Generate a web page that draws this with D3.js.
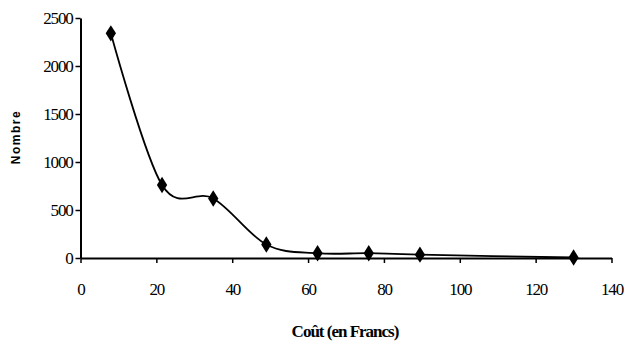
<!DOCTYPE html>
<html>
<head>
<meta charset="utf-8">
<script src="https://cdn.jsdelivr.net/npm/d3@7"></script>
<style>
  body { margin: 0; background: #fff; }
  .tick text { font-family: "Liberation Serif", "Times New Roman", serif; font-size: 17px; letter-spacing: -1.2px; fill: #000; }
  .axis path, .axis line { stroke: #000; }
</style>
</head>
<body>
<div id="chart"></div>
<script>
// cost (francs) and count
var couts = [8, 21.5, 35, 49, 62.5, 76, 89.5, 130];
var nombres = [2340, 760, 620, 140, 50, 50, 35, 5];
var xTicks = [0, 20, 40, 60, 80, 100, 120, 140];
var yTicks = [0, 500, 1000, 1500, 2000, 2500];

var width = 624, height = 343;
var mLeft = 80.5, mRight = 611.5, mTop = 18, mBottom = 258;

var data = couts.map(function(c, i) { return {x: c, y: nombres[i]}; });

var xScale = d3.scaleLinear().domain([0, 140]).range([mLeft, mRight]);
var yScale = d3.scaleLinear().domain([0, 2500]).range([mBottom, mTop]);

var svg = d3.select("#chart").append("svg")
    .attr("width", width)
    .attr("height", height);

/* axes */
var xAxis = d3.axisBottom(xScale).tickValues(xTicks).tickSize(5).tickSizeOuter(0).tickPadding(20);
var yAxis = d3.axisLeft(yScale).tickValues(yTicks).tickFormat(d3.format("d")).tickSize(5).tickSizeOuter(0).tickPadding(3);

svg.append("g")
    .attr("class", "x axis")
    .attr("transform", `translate(0, ${mBottom})`)
    .call(xAxis)
    .call(g => g.select(".domain").attr("stroke-width", 2.2))
    .call(g => g.selectAll(".tick line").attr("stroke-width", 1.5));

svg.append("g")
    .attr("class", "y axis")
    .attr("transform", `translate(${mLeft}, 0)`)
    .call(yAxis)
    .call(g => g.select(".domain").attr("stroke-width", 2))
    .call(g => g.selectAll(".tick line").attr("stroke-width", 1.5));

/* smoothed line (uniform catmull-rom, like excel smoothing) */
var line = d3.line()
    .x(d => xScale(d.x))
    .y(d => yScale(d.y))
    .curve(d3.curveCatmullRom.alpha(0));

svg.append("path")
    .datum(data)
    .attr("d", line)
    .attr("fill", "none")
    .attr("stroke", "#000")
    .attr("stroke-width", 1.8);

/* diamond markers */
var diamond = d3.symbol().type(d3.symbolDiamond).size(64);
svg.selectAll(".pt")
    .data(data).enter()
    .append("path")
    .attr("class", "pt")
    .attr("d", diamond)
    .attr("transform", d => `translate(${xScale(d.x)}, ${yScale(d.y)}) scale(1.2, 1.1)`)
    .attr("fill", "#000");

/* labels */
svg.append("text")
    .attr("x", 345)
    .attr("y", 337)
    .attr("text-anchor", "middle")
    .style("font-family", "Liberation Serif, serif")
    .style("font-size", "17px")
    .style("letter-spacing", "-1px")
    .style("font-weight", "bold")
    .text("Coût (en Francs)");

svg.append("text")
    .attr("transform", "translate(20, 137) rotate(-90)")
    .attr("text-anchor", "middle")
    .style("font-family", "Liberation Sans, sans-serif")
    .style("font-size", "12px")
    .style("letter-spacing", "1.5px")
    .style("font-weight", "bold")
    .text("Nombre");
</script>
</body>
</html>
